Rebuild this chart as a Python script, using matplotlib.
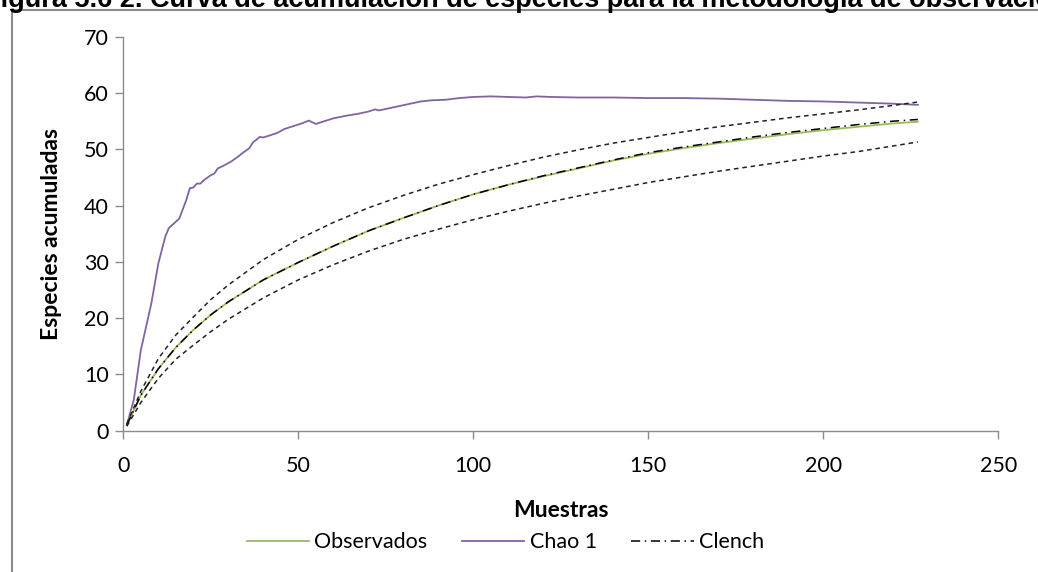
import matplotlib
matplotlib.use("Agg")
import matplotlib.pyplot as plt
from matplotlib.patches import Rectangle

# Data
muestras = [1, 5, 10, 15, 20, 25, 30, 40, 50, 60, 70, 80, 90, 100, 110, 120,
            130, 140, 150, 160, 170, 180, 190, 200, 210, 220, 227]
observados = [1.0, 6.3, 11.0, 14.8, 17.9, 20.6, 22.9, 26.8, 29.9, 32.8, 35.5, 37.8,
              40.0, 42.0, 43.7, 45.2, 46.6, 48.0, 49.2, 50.2, 51.1, 51.9, 52.7,
              53.4, 54.0, 54.6, 54.9]
clench = [1.0, 6.3, 11.0, 14.8, 17.9, 20.6, 22.9, 26.8, 29.9, 32.8, 35.5, 37.8,
          40.0, 42.0, 43.7, 45.3, 46.7, 48.1, 49.4, 50.4, 51.3, 52.2, 53.0,
          53.7, 54.4, 55.0, 55.3]
clench_sup = [1.2, 7.0, 12.8, 17.0, 20.2, 23.3, 25.9, 30.4, 34.0, 37.0, 39.6, 41.8,
              43.8, 45.5, 47.1, 48.6, 49.9, 51.1, 52.1, 53.1, 54.0, 54.8, 55.6,
              56.3, 57.0, 57.8, 58.4]
clench_inf = [0.8, 5.0, 9.3, 12.7, 15.2, 17.6, 19.8, 23.6, 26.8, 29.5, 31.9, 34.0,
              35.8, 37.5, 39.0, 40.4, 41.7, 42.9, 44.1, 45.1, 46.1, 47.0, 47.9,
              48.8, 49.6, 50.6, 51.3]

chao_x = [1, 3, 5, 8, 10, 12, 13, 16, 18, 19, 20, 21, 22, 23, 25, 26, 27, 29, 31,
          33, 34, 36, 37, 39, 40, 42, 44, 46, 48, 51, 53, 55, 57, 60, 64, 67, 70,
          72, 73, 76, 79, 85, 88, 92, 96, 100, 105, 110, 115, 118, 122, 130, 140,
          150, 160, 170, 180, 190, 200, 210, 220, 227]
chao1 = [1.0, 5.5, 14.3, 22.6, 29.7, 34.5, 36.0, 37.7, 41.0, 43.1, 43.2, 43.9,
         43.9, 44.5, 45.4, 45.7, 46.6, 47.2, 47.9, 48.8, 49.3, 50.2, 51.2, 52.2,
         52.1, 52.5, 52.9, 53.6, 54.0, 54.6, 55.1, 54.5, 54.9, 55.5, 56.0, 56.3,
         56.7, 57.1, 56.9, 57.3, 57.7, 58.5, 58.7, 58.8, 59.1, 59.3, 59.4, 59.3,
         59.2, 59.4, 59.3, 59.2, 59.2, 59.1, 59.1, 59.0, 58.8, 58.6, 58.5, 58.3,
         58.1, 57.9]

titulo = "Figura 5.6 2. Curva de acumulación de especies para la metodología de observación"

plt.rcParams['font.family'] = ['Lato', 'DejaVu Sans']

fig = plt.figure(figsize=(10.38, 5.72), dpi=100)
ax = fig.add_axes([0.1188, 0.247, 0.843, 0.6888])

ax.plot(muestras, observados, color='#9BBB59', lw=1.3, label='Observados')
ax.plot(chao_x, chao1, color='#8064A2', lw=1.3, label='Chao 1')
ax.plot(muestras, clench, color='black', lw=1.1, ls=(0, (6, 3, 1, 3)), label='Clench')
ax.plot(muestras, clench_sup, color='#222222', lw=1.1, ls=(0, (3, 2.5)))
ax.plot(muestras, clench_inf, color='#222222', lw=1.1, ls=(0, (3, 2.5)))

ax.set_xlim(0, 250)
ax.set_ylim(0, 70)
ax.set_xticks(range(0, 251, 50))
ax.set_yticks(range(0, 71, 10))

for s in ['top', 'right']:
    ax.spines[s].set_visible(False)
for s in ['left', 'bottom']:
    ax.spines[s].set_color('#8c8c8c')
    ax.spines[s].set_linewidth(1.0)
ax.tick_params(axis='both', direction='out', length=5.5, width=1.0,
               color='#8c8c8c', labelsize=15.5, labelcolor='black')
ax.tick_params(axis='x', pad=13)
ax.tick_params(axis='y', pad=5)

ax.set_xlabel('Muestras', fontsize=16.5, fontweight='bold', labelpad=17)
ax.set_ylabel('Especies acumuladas', fontsize=16.5, fontweight='bold', labelpad=16)

ax.legend(loc='center', bbox_to_anchor=(0.487, 0.052), bbox_transform=fig.transFigure,
          ncol=3, frameon=False, fontsize=15.5, handlelength=2.9,
          handletextpad=0.25, columnspacing=1.6)

# chart area border (cut off at the right and bottom in the reference)
fig.add_artist(Rectangle((12 / 1038, -0.05), 1.2, 1 - 10 / 572 + 0.05,
                         transform=fig.transFigure, fill=False,
                         edgecolor='#8c8c8c', lw=1.5))

# caption, cut at the top of the picture
fig.text(-16 / 1038, 1 - 7 / 572, titulo, fontsize=19.5, fontweight='bold',
         family='Liberation Sans', va='baseline', ha='left')

fig.savefig('out.png', dpi=100)
